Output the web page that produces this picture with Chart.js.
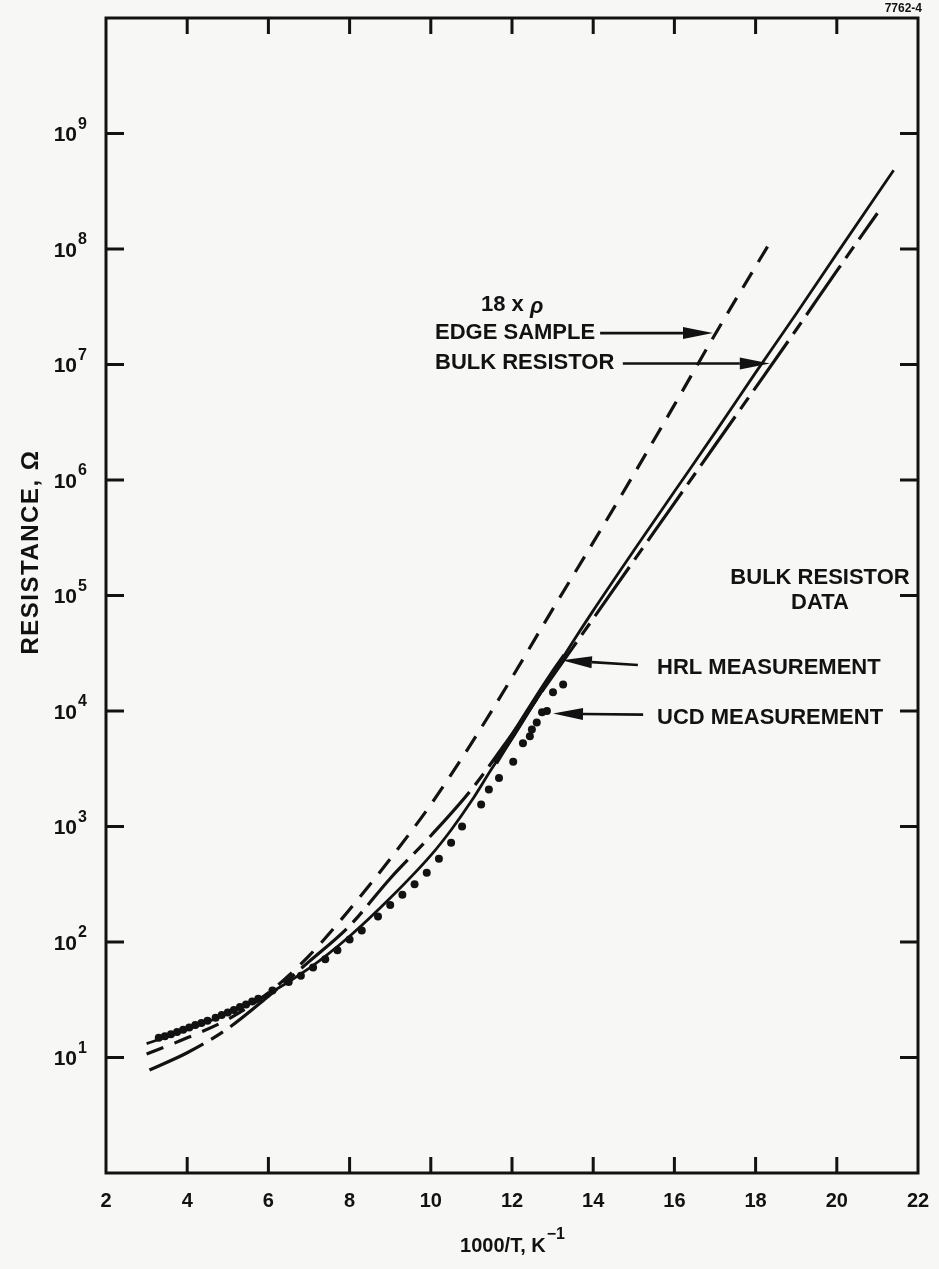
<!DOCTYPE html>
<html>
<head>
<meta charset="utf-8">
<script src="https://cdn.jsdelivr.net/npm/chart.js@4.4.0/dist/chart.umd.min.js"></script>
<style>
  html, body { margin: 0; padding: 0; background: #f7f7f5; }
  canvas { display: block; }
</style>
</head>
<body>
<canvas id="resChart" width="939" height="1269"></canvas>
<script>
// 18 x rho, edge sample (short dashes)
const edgeX = [3.0, 4.0, 5.0, 6.0, 7.0, 8.0, 9.0, 10.0, 11.0, 12.0, 13.0, 14.0, 15.0, 16.0, 17.0, 18.43];
const edgeR = [10.7, 14.8, 21.4, 36.3, 75.9, 191, 525, 1550, 5250, 19500, 75900, 288000, 1120000, 4470000, 18200000, 126000000];

// bulk resistor, solid curve
const solidX = [3.0, 4.0, 5.0, 6.0, 7.0, 8.0, 9.0, 10.0, 10.5, 11.0, 11.5, 12.0, 12.5, 13.0, 13.5, 14.0, 15.0, 16.0, 17.0, 18.0, 19.0, 20.0, 21.4];
const solidR = [13.2, 17.4, 24, 35.5, 59, 112, 240, 562, 933, 1660, 3160, 5750, 11000, 20900, 39800, 74000, 245000, 794000, 2570000, 8510000, 27500000, 91200000, 480000000];

// bulk resistor, long-short dashes
const bulkX = [3.07, 4.0, 5.0, 6.0, 7.0, 8.0, 9.0, 10.0, 11.0, 12.0, 13.0, 14.0, 15.0, 16.0, 17.0, 18.0, 19.0, 20.0, 21.0];
const bulkR = [7.8, 11, 17.8, 33.9, 67.6, 138, 355, 832, 2090, 6310, 20000, 63100, 200000, 631000, 2000000, 6310000, 20000000, 64600000, 204000000];

// HRL measurement (heavy solid piece)
const hrlX = [11.6, 12.0, 12.5, 13.0, 13.3];
const hrlR = [3550, 6030, 11500, 21400, 30200];

// UCD measurement (dots)
const ucdX = [3.3, 3.45, 3.6, 3.75, 3.9, 4.05, 4.2, 4.35, 4.5, 4.7, 4.85, 5.0, 5.15, 5.3, 5.45, 5.6, 5.75,
              6.1, 6.5, 6.8, 7.1, 7.4, 7.7, 8.0, 8.3, 8.7, 9.0, 9.3, 9.6, 9.9, 10.2, 10.5, 10.77,
              11.24, 11.43, 11.68, 12.03, 12.27, 12.44, 12.49, 12.61, 12.74, 12.86, 13.01, 13.26];
const ucdR = [14.8, 15.3, 15.9, 16.6, 17.4, 18.2, 19.1, 19.9, 20.8, 22.1, 23.3, 24.5, 25.8, 27.3, 28.8, 30.5, 32.2,
              38, 45, 51, 60, 71, 85, 105, 126, 166, 209, 257, 316, 398, 525, 724, 1000,
              1550, 2090, 2630, 3630, 5250, 6030, 6920, 7940, 9770, 10000, 14500, 17000];

const xTicks = [4, 6, 8, 10, 12, 14, 16, 18, 20];
const xLabels = [2, 4, 6, 8, 10, 12, 14, 16, 18, 20, 22];
const yTicks = [1e1, 1e2, 1e3, 1e4, 1e5, 1e6, 1e7, 1e8, 1e9];
const yExps = ['1', '2', '3', '4', '5', '6', '7', '8', '9'];

const pts = (xs, ys) => xs.map((x, i) => ({ x: x, y: ys[i] }));
const INK = '#121212';
const FONT = '"Liberation Sans", Arial, sans-serif';

function arrow(ctx, x1, y1, x2, y2) {
  const ang = Math.atan2(y2 - y1, x2 - x1);
  const len = 30, half = 6;
  const bx = x2 - len * Math.cos(ang), by = y2 - len * Math.sin(ang);
  ctx.beginPath();
  ctx.moveTo(x1, y1);
  ctx.lineTo(bx, by);
  ctx.lineWidth = 2.6;
  ctx.stroke();
  ctx.beginPath();
  ctx.moveTo(x2, y2);
  ctx.lineTo(bx + half * Math.sin(ang), by - half * Math.cos(ang));
  ctx.lineTo(bx - half * Math.sin(ang), by + half * Math.cos(ang));
  ctx.closePath();
  ctx.fill();
}

const framePlugin = {
  id: 'frame',
  beforeDraw(chart) {
    const ctx = chart.ctx;
    ctx.save();
    ctx.fillStyle = '#f7f7f5';
    ctx.fillRect(0, 0, chart.width, chart.height);
    ctx.restore();
  },
  afterDraw(chart) {
    const { ctx, chartArea: a, scales: { x, y } } = chart;
    ctx.save();
    ctx.strokeStyle = INK;
    ctx.fillStyle = INK;
    ctx.lineWidth = 3;
    ctx.strokeRect(a.left, a.top, a.right - a.left, a.bottom - a.top);

    // inward tick marks on all four sides
    ctx.beginPath();
    xTicks.forEach(v => {
      const px = x.getPixelForValue(v);
      ctx.moveTo(px, a.bottom); ctx.lineTo(px, a.bottom - 16);
      ctx.moveTo(px, a.top); ctx.lineTo(px, a.top + 16);
    });
    yTicks.forEach(v => {
      const py = y.getPixelForValue(v);
      ctx.moveTo(a.left, py); ctx.lineTo(a.left + 18, py);
      ctx.moveTo(a.right, py); ctx.lineTo(a.right - 18, py);
    });
    ctx.stroke();

    // x tick labels
    ctx.font = 'bold 20px ' + FONT;
    ctx.textAlign = 'center';
    ctx.textBaseline = 'middle';
    xLabels.forEach(v => ctx.fillText(String(v), x.getPixelForValue(v), a.bottom + 28));

    // y tick labels 10^n
    yTicks.forEach((v, i) => {
      const py = y.getPixelForValue(v);
      ctx.font = 'bold 21px ' + FONT;
      ctx.textAlign = 'right';
      ctx.textBaseline = 'middle';
      ctx.fillText('10', 77, py + 2);
      ctx.font = 'bold 16px ' + FONT;
      ctx.textAlign = 'left';
      ctx.fillText(yExps[i], 78, py - 9);
    });

    // axis titles
    ctx.textAlign = 'left';
    ctx.textBaseline = 'middle';
    ctx.font = 'bold 20px ' + FONT;
    const t1 = '1000/T, K';
    const w1 = ctx.measureText(t1).width;
    ctx.font = 'bold 16px ' + FONT;
    const w2 = ctx.measureText('\u22121').width;
    const tx = (a.left + a.right) / 2 - (w1 + w2) / 2;
    ctx.font = 'bold 20px ' + FONT;
    ctx.fillText(t1, tx, 1246);
    ctx.font = 'bold 16px ' + FONT;
    ctx.fillText('\u22121', tx + w1 + 1, 1235);

    ctx.save();
    ctx.translate(31, 552);
    ctx.rotate(-Math.PI / 2);
    ctx.font = 'bold 24px ' + FONT;
    ctx.letterSpacing = '1.5px';
    ctx.textAlign = 'center';
    ctx.fillText('RESISTANCE, \u03A9', 0, 0);
    ctx.restore();

    // annotations
    ctx.font = 'bold 22px ' + FONT;
    ctx.textAlign = 'left';
    ctx.textBaseline = 'middle';
    ctx.fillText('18 x ', 481, 305);
    const w18 = ctx.measureText('18 x ').width;
    ctx.font = 'italic bold 22px ' + FONT;
    ctx.fillText('\u03C1', 481 + w18, 307);
    ctx.font = 'bold 22px ' + FONT;
    ctx.fillText('EDGE SAMPLE', 435, 333);
    ctx.fillText('BULK RESISTOR', 435, 363);
    ctx.fillText('HRL MEASUREMENT', 657, 668);
    ctx.fillText('UCD MEASUREMENT', 657, 718);
    ctx.textAlign = 'center';
    ctx.fillText('BULK RESISTOR', 820, 578);
    ctx.fillText('DATA', 820, 603);

    ctx.font = 'bold 12px ' + FONT;
    ctx.textAlign = 'right';
    ctx.fillText('7762-4', 922, 9);

    const P = (vx, vy) => [x.getPixelForValue(vx), y.getPixelForValue(vy)];
    const arrows = [
      [14.17, 1.87e7, 16.95, 1.87e7],
      [14.73, 1.02e7, 18.35, 1.02e7],
      [15.1, 2.5e4, 13.23, 2.75e4],
      [15.23, 9.3e3, 13.01, 9.5e3]
    ];
    arrows.forEach(r => {
      const s = P(r[0], r[1]), e = P(r[2], r[3]);
      arrow(ctx, s[0], s[1], e[0], e[1]);
    });
    ctx.restore();
  }
};

const ctx = document.getElementById('resChart').getContext('2d');
const resChart = new Chart(ctx, {
  type: 'line',
  data: {
    datasets: [
      {
        label: 'Bulk resistor',
        data: pts(solidX, solidR),
        borderColor: INK,
        borderWidth: 2.8,
        pointRadius: 0,
        cubicInterpolationMode: 'monotone'
      },
      {
        label: 'HRL measurement',
        data: pts(hrlX, hrlR),
        borderColor: INK,
        borderWidth: 5,
        pointRadius: 0,
        cubicInterpolationMode: 'monotone'
      },
      {
        label: 'Bulk resistor (dashed)',
        data: pts(bulkX, bulkR),
        borderColor: INK,
        borderWidth: 3.2,
        borderDash: [60, 9, 14, 9],
        pointRadius: 0,
        cubicInterpolationMode: 'monotone'
      },
      {
        label: '18 x rho edge sample',
        data: pts(edgeX, edgeR),
        borderColor: INK,
        borderWidth: 3.2,
        borderDash: [18, 12],
        pointRadius: 0,
        cubicInterpolationMode: 'monotone'
      },
      {
        label: 'UCD measurement',
        data: pts(ucdX, ucdR),
        showLine: false,
        pointRadius: 4,
        pointBackgroundColor: INK,
        pointBorderWidth: 0
      }
    ]
  },
  options: {
    responsive: false,
    animation: false,
    layout: { padding: { left: 106, right: 21, top: 18, bottom: 96 } },
    scales: {
      x: { type: 'linear', min: 2, max: 22, display: false },
      y: { type: 'logarithmic', min: 1, max: 1e10, display: false }
    },
    plugins: {
      legend: { display: false },
      tooltip: { enabled: false }
    }
  },
  plugins: [framePlugin]
});
</script>
</body>
</html>
